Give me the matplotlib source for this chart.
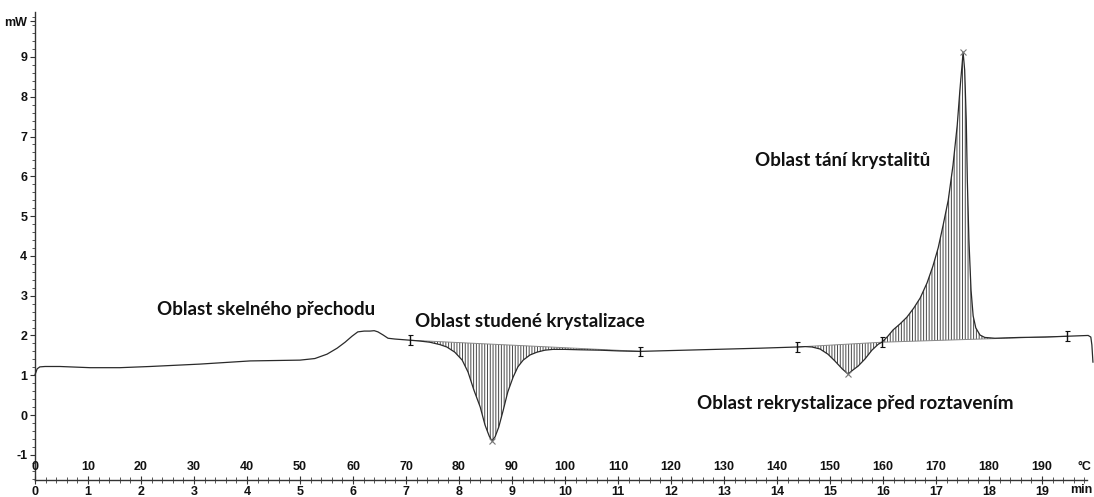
import numpy as np
import matplotlib
matplotlib.use('Agg')
import matplotlib.pyplot as plt
from matplotlib.ticker import MultipleLocator

# DSC record: time [min] vs heat flow [mW], heating 10 K/min
time_min = [0.00, 0.04, 0.09, 0.19, 0.47, 1.04, 1.60, 2.17, 3.11, 4.06, 5.00,
            5.28, 5.51, 5.70, 5.85, 5.98, 6.09, 6.21, 6.32, 6.40, 6.47, 6.57,
            6.66, 6.79, 7.08,
            7.26, 7.45, 7.64, 7.77, 7.92, 8.06, 8.17, 8.28, 8.40, 8.49, 8.57,
            8.62, 8.68, 8.75, 8.83, 8.92, 9.02, 9.11, 9.21, 9.34, 9.47, 9.62,
            9.77, 10.00, 10.28, 10.66, 11.04, 11.42,
            12.55, 13.68, 14.38,
            14.53, 14.66, 14.81, 14.96, 15.09, 15.23, 15.34, 15.43, 15.53,
            15.66, 15.79, 15.91, 15.98,
            16.09, 16.19, 16.32, 16.45, 16.58, 16.70, 16.83, 16.94, 17.04,
            17.13, 17.23, 17.32, 17.40, 17.45, 17.49, 17.51, 17.54, 17.57,
            17.59, 17.62, 17.66, 17.70, 17.75, 17.83, 17.92, 18.11, 18.58,
            19.06, 19.47, 19.87, 19.92, 19.94, 19.96]
heat_flow = [1.01, 1.16, 1.21, 1.22, 1.22, 1.19, 1.19, 1.22, 1.28, 1.36, 1.38,
             1.42, 1.53, 1.68, 1.83, 1.98, 2.09, 2.11, 2.11, 2.12, 2.09, 2.01,
             1.93, 1.91, 1.88,
             1.86, 1.83, 1.77, 1.71, 1.58, 1.38, 1.08, 0.63, 0.20, -0.25, -0.53,
             -0.65, -0.55, -0.30, 0.10, 0.58, 0.95, 1.21, 1.38, 1.51, 1.58, 1.63,
             1.65, 1.65, 1.64, 1.63, 1.61, 1.60,
             1.64, 1.68, 1.71,
             1.72, 1.71, 1.66, 1.53, 1.36, 1.16, 1.03, 1.13, 1.23,
             1.41, 1.63, 1.78, 1.83,
             1.98, 2.14, 2.29, 2.46, 2.69, 2.94, 3.32, 3.74, 4.20,
             4.75, 5.40, 6.28, 7.29, 8.17, 8.79, 9.12, 8.67, 7.41,
             5.90, 4.40, 3.14, 2.49, 2.19, 2.01, 1.95, 1.93, 1.95,
             1.96, 1.98, 2.00, 1.96, 1.76, 1.33]

# integration limits [min] and peak positions
regions = [(7.08, 11.42), (14.38, 15.98), (15.98, 19.47)]
peak_times = [8.62, 15.34, 17.51]

labels = ['Oblast skelného přechodu', 'Oblast studené krystalizace',
          'Oblast tání krystalitů', 'Oblast rekrystalizace před roztavením']
label_pos = [(2.30, 2.64), (7.17, 2.34), (13.58, 6.41), (12.49, 0.30)]

y_major = list(range(-1, 10))
min_ticks = list(range(0, 20))
degc_ticks = list(range(0, 200, 10))

t = np.array(time_min)
q = np.array(heat_flow)

W, H = 1094, 497
fig = plt.figure(figsize=(W / 100, H / 100), dpi=100)
plt.rcParams['hatch.linewidth'] = 0.7

left, bottom = 35 / W, (H - 480) / H
width, height = (W - 35) / W, 468 / H
ax = fig.add_axes([left, bottom, width, height])
ax.set_xlim(0, 19.98)
ax.set_ylim(-1.633, 10.13)

for a, b in regions:
    m = (t >= a) & (t <= b)
    tt, qq = t[m], q[m]
    base = np.interp(tt, [a, b], [np.interp(a, t, q), np.interp(b, t, q)])
    ax.fill_between(tt, qq, base, facecolor='none', edgecolor='#4a4a4a',
                    hatch='|' * 6, linewidth=0)
    ax.plot([a, b], [np.interp(a, t, q), np.interp(b, t, q)],
            color='#888888', lw=0.7)

ax.plot(t, q, color='#2a2a2a', lw=0.9, clip_on=False, zorder=3)

bounds = sorted(set([r[0] for r in regions] + [r[1] for r in regions]))
ax.errorbar(bounds, np.interp(bounds, t, q), yerr=0.12, fmt='none',
            ecolor='#111111', elinewidth=1.0, capsize=1.8, capthick=0.8,
            zorder=4)
ax.plot(peak_times, np.interp(peak_times, t, q), 'x', color='#777777',
        ms=4, mew=0.8, zorder=4)

for txt, (x, y) in zip(labels, label_pos):
    ax.text(x, y, txt, ha='left', va='center', fontsize=13.5,
            fontfamily='Lato', fontweight='bold', color='#111111')

# axes
for s in ['top', 'right']:
    ax.spines[s].set_visible(False)
ax.spines['bottom'].set_bounds(0, 19.85)
for s in ['left', 'bottom']:
    ax.spines[s].set_linewidth(1.0)
    ax.spines[s].set_color('#333333')

ax.set_yticks(y_major + [9.9])
ax.set_yticklabels([str(v) for v in y_major] + ['mW'])
ax.yaxis.set_minor_locator(MultipleLocator(0.2))
ax.tick_params(axis='y', which='major', direction='out', length=3.5,
               width=0.8, pad=2, labelsize=9, colors='#333333')
ax.tick_params(axis='y', which='minor', direction='out', length=2.5,
               width=0.7, colors='#555555')

ax.set_xticks(min_ticks)
ax.xaxis.set_minor_locator(MultipleLocator(0.2))
ax.tick_params(axis='x', which='major', direction='inout', length=6,
               width=0.8, pad=1, labelsize=9, colors='#333333')
ax.tick_params(axis='x', which='minor', direction='inout', length=4,
               width=0.7, colors='#555555')

for lab in ax.get_xticklabels() + ax.get_yticklabels():
    lab.set_fontfamily('Liberation Sans')
    lab.set_fontweight('bold')
    lab.set_color('#111111')

ax.annotate('min', xy=(1, 0), xycoords='axes fraction',
            xytext=(-1.5, -3.2), textcoords='offset points', ha='right',
            va='top', fontsize=9, fontweight='bold',
            fontfamily='Liberation Sans', color='#111111')

# temperature scale drawn above the time axis line
axc = fig.add_axes([left, bottom, width, 1e-5])
axc.set_xlim(0, 199.8)
axc.patch.set_visible(False)
for s in axc.spines.values():
    s.set_visible(False)
axc.set_yticks([])
axc.xaxis.tick_top()
axc.set_xticks(degc_ticks)
axc.tick_params(axis='x', length=0, pad=5, labelsize=9)
for lab in axc.get_xticklabels():
    lab.set_fontfamily('Liberation Sans')
    lab.set_fontweight('bold')
    lab.set_color('#111111')
ax.annotate('°C', xy=(1, 0), xycoords='axes fraction',
            xytext=(-2, 5), textcoords='offset points', ha='right',
            va='bottom', fontsize=9, fontweight='bold',
            fontfamily='Liberation Sans', color='#111111')

fig.savefig('out.png', dpi=100)
